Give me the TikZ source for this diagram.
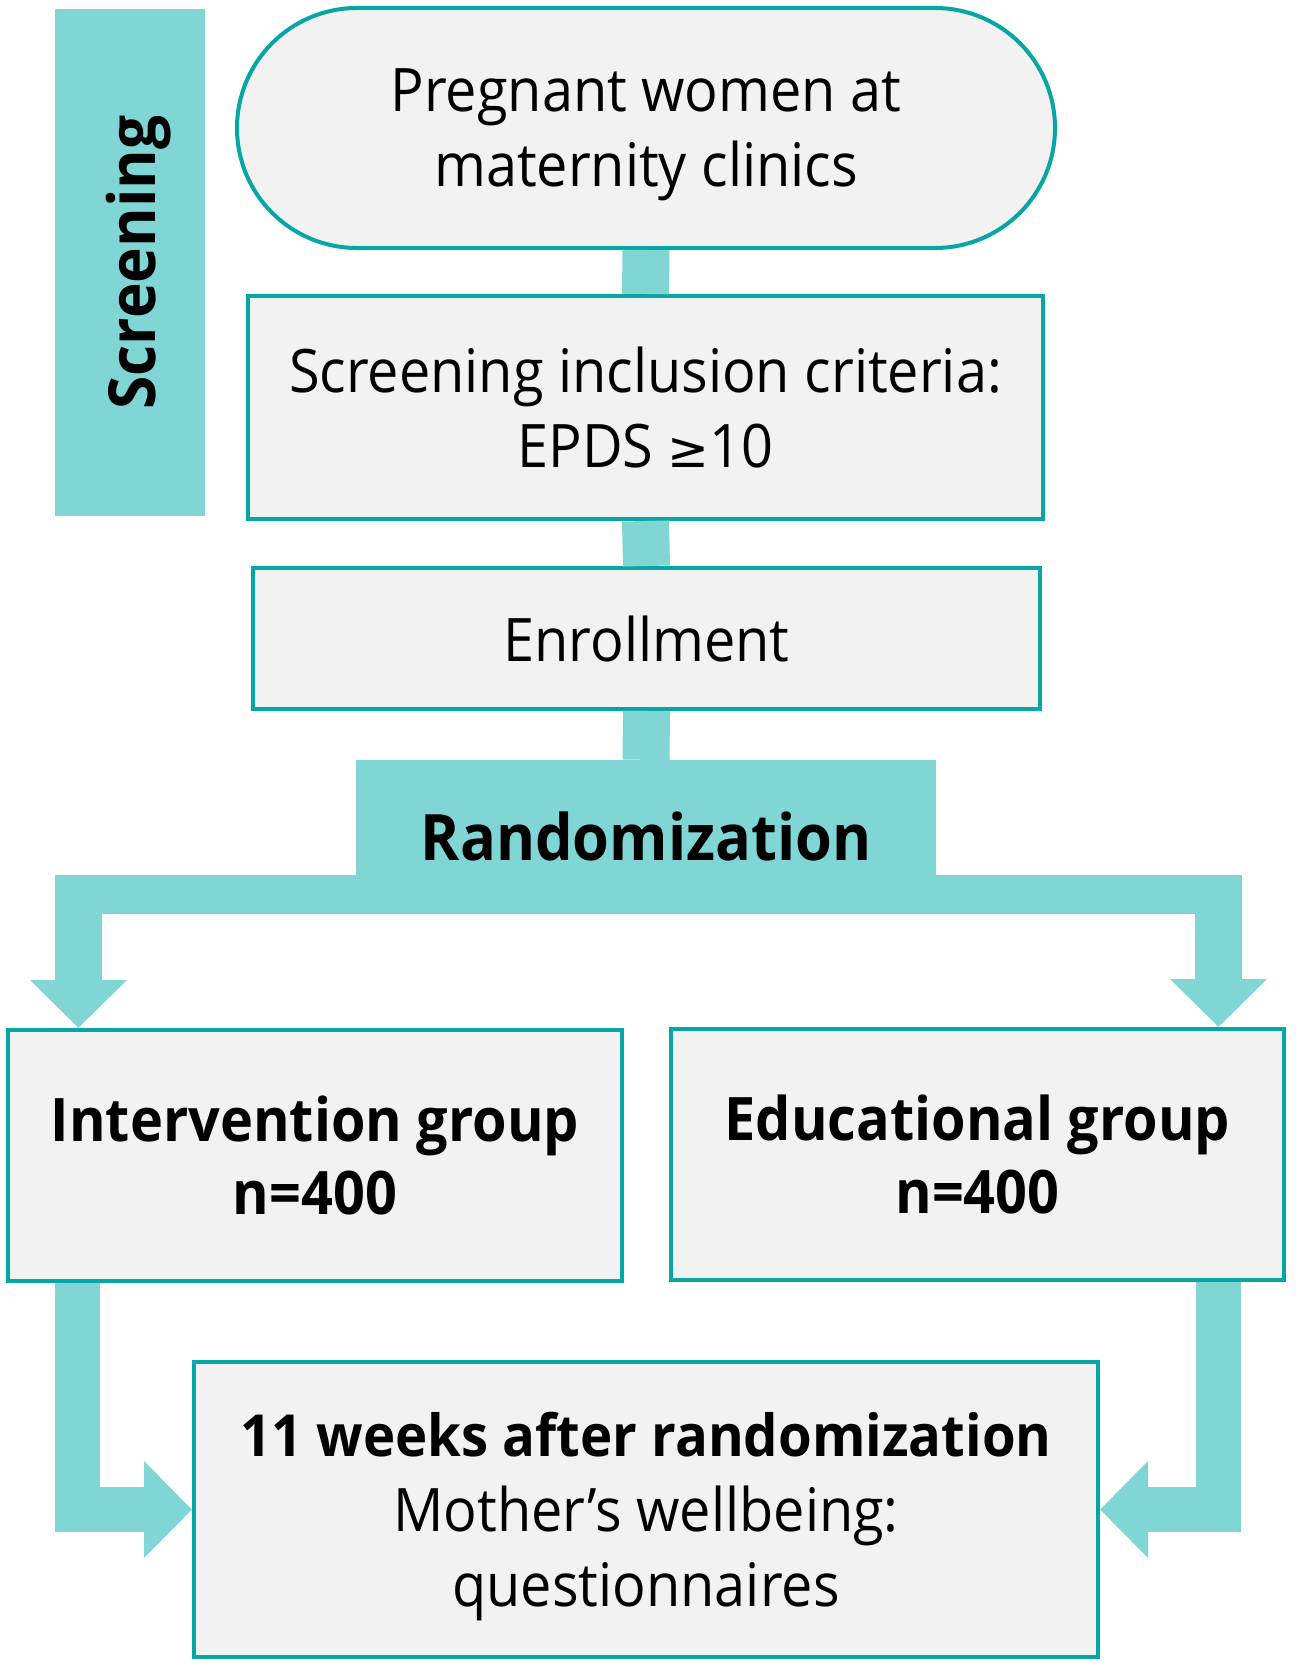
\documentclass[tikz,border=0pt]{standalone}
\usepackage{fontspec}
\setmainfont{Open Sans}[FakeStretch=0.93]
\usetikzlibrary{arrows.meta}
\definecolor{tealL}{HTML}{80D6D4}
\definecolor{tealD}{HTML}{06A6A6}
\definecolor{boxF}{HTML}{F2F2F2}
\tikzset{
  box/.style={draw=tealD, line width=4pt, fill=boxF, inner sep=0pt, align=center,
    font=\fontsize{60}{75}\selectfont},
  bbox/.style={box, font=\fontsize{60}{73}\selectfont\bfseries},
  conn/.style={draw=tealL, line width=47pt},
  tip/.style={-{Triangle[width=94pt,length=48pt]}},
}
\begin{document}
\begin{tikzpicture}[x=1pt,y=-1pt]
\useasboundingbox (0,0) rectangle (1299,1672);
% screening bar
\node[fill=tealL, rotate=90, minimum width=507pt, minimum height=150pt, inner sep=0pt,
  text height=50pt, text depth=0pt,
  font=\fontsize{65}{70}\selectfont\bfseries] (scr) at (130,262.5) {Screening};
% boxes
\node[box, rounded corners=120pt, minimum width=818pt, minimum height=240pt] (stad) at (646,128)
  {Pregnant women at\\\smash{maternity clinics}};
\node[box, minimum width=795pt, minimum height=223pt] (crit) at (645.5,407.5)
  {Screening inclusion criteria:\\EPDS {\fontspec{DejaVu Sans}\fontsize{50}{60}\selectfont ≥}10};
\node[box, minimum width=787pt, minimum height=141pt] (enrol) at (646.5,638.5) {Enrollment};
\node[fill=tealL, inner sep=0pt, minimum width=580pt, minimum height=117pt,
  text height=83pt, text depth=0pt,
  font=\fontsize{64}{73}\selectfont\bfseries] (rand) at (646,818.5) {Randomization};
\node[bbox, minimum width=614pt, minimum height=251pt] (intv) at (315,1155.5)
  {Intervention group\\n=400};
\node[bbox, minimum width=613pt, minimum height=251pt] (edu) at (977.5,1154.5)
  {Educational group\\n=400};
\node[box, minimum width=904pt, minimum height=295pt] (out) at (646,1509.5)
  {{\bfseries\fontsize{58}{75}\selectfont\scalebox{1.01}[1]{11 weeks after randomization}}\\Mother’s wellbeing:\\\smash{questionnaires}};
% connectors
\draw[conn] (stad.south) -- (crit.north);
\draw[conn] (crit.south) -- (enrol.north);
\draw[conn] (enrol.south) -- (rand.north);
\fill[tealL] (55,875) rectangle (1242,914);
\coordinate (bl) at (78.5,890);
\coordinate (br) at (1218.5,890);
\draw[conn, tip] (bl) -- (bl |- intv.north);
\draw[conn, tip] (br) -- (br |- edu.north);
\draw[conn, line width=45pt, line join=miter, tip] (77,1283) |- (out.west);
\draw[conn, line width=45pt, line join=miter, tip] (1218,1282) |- (out.east);
\end{tikzpicture}
\end{document}
